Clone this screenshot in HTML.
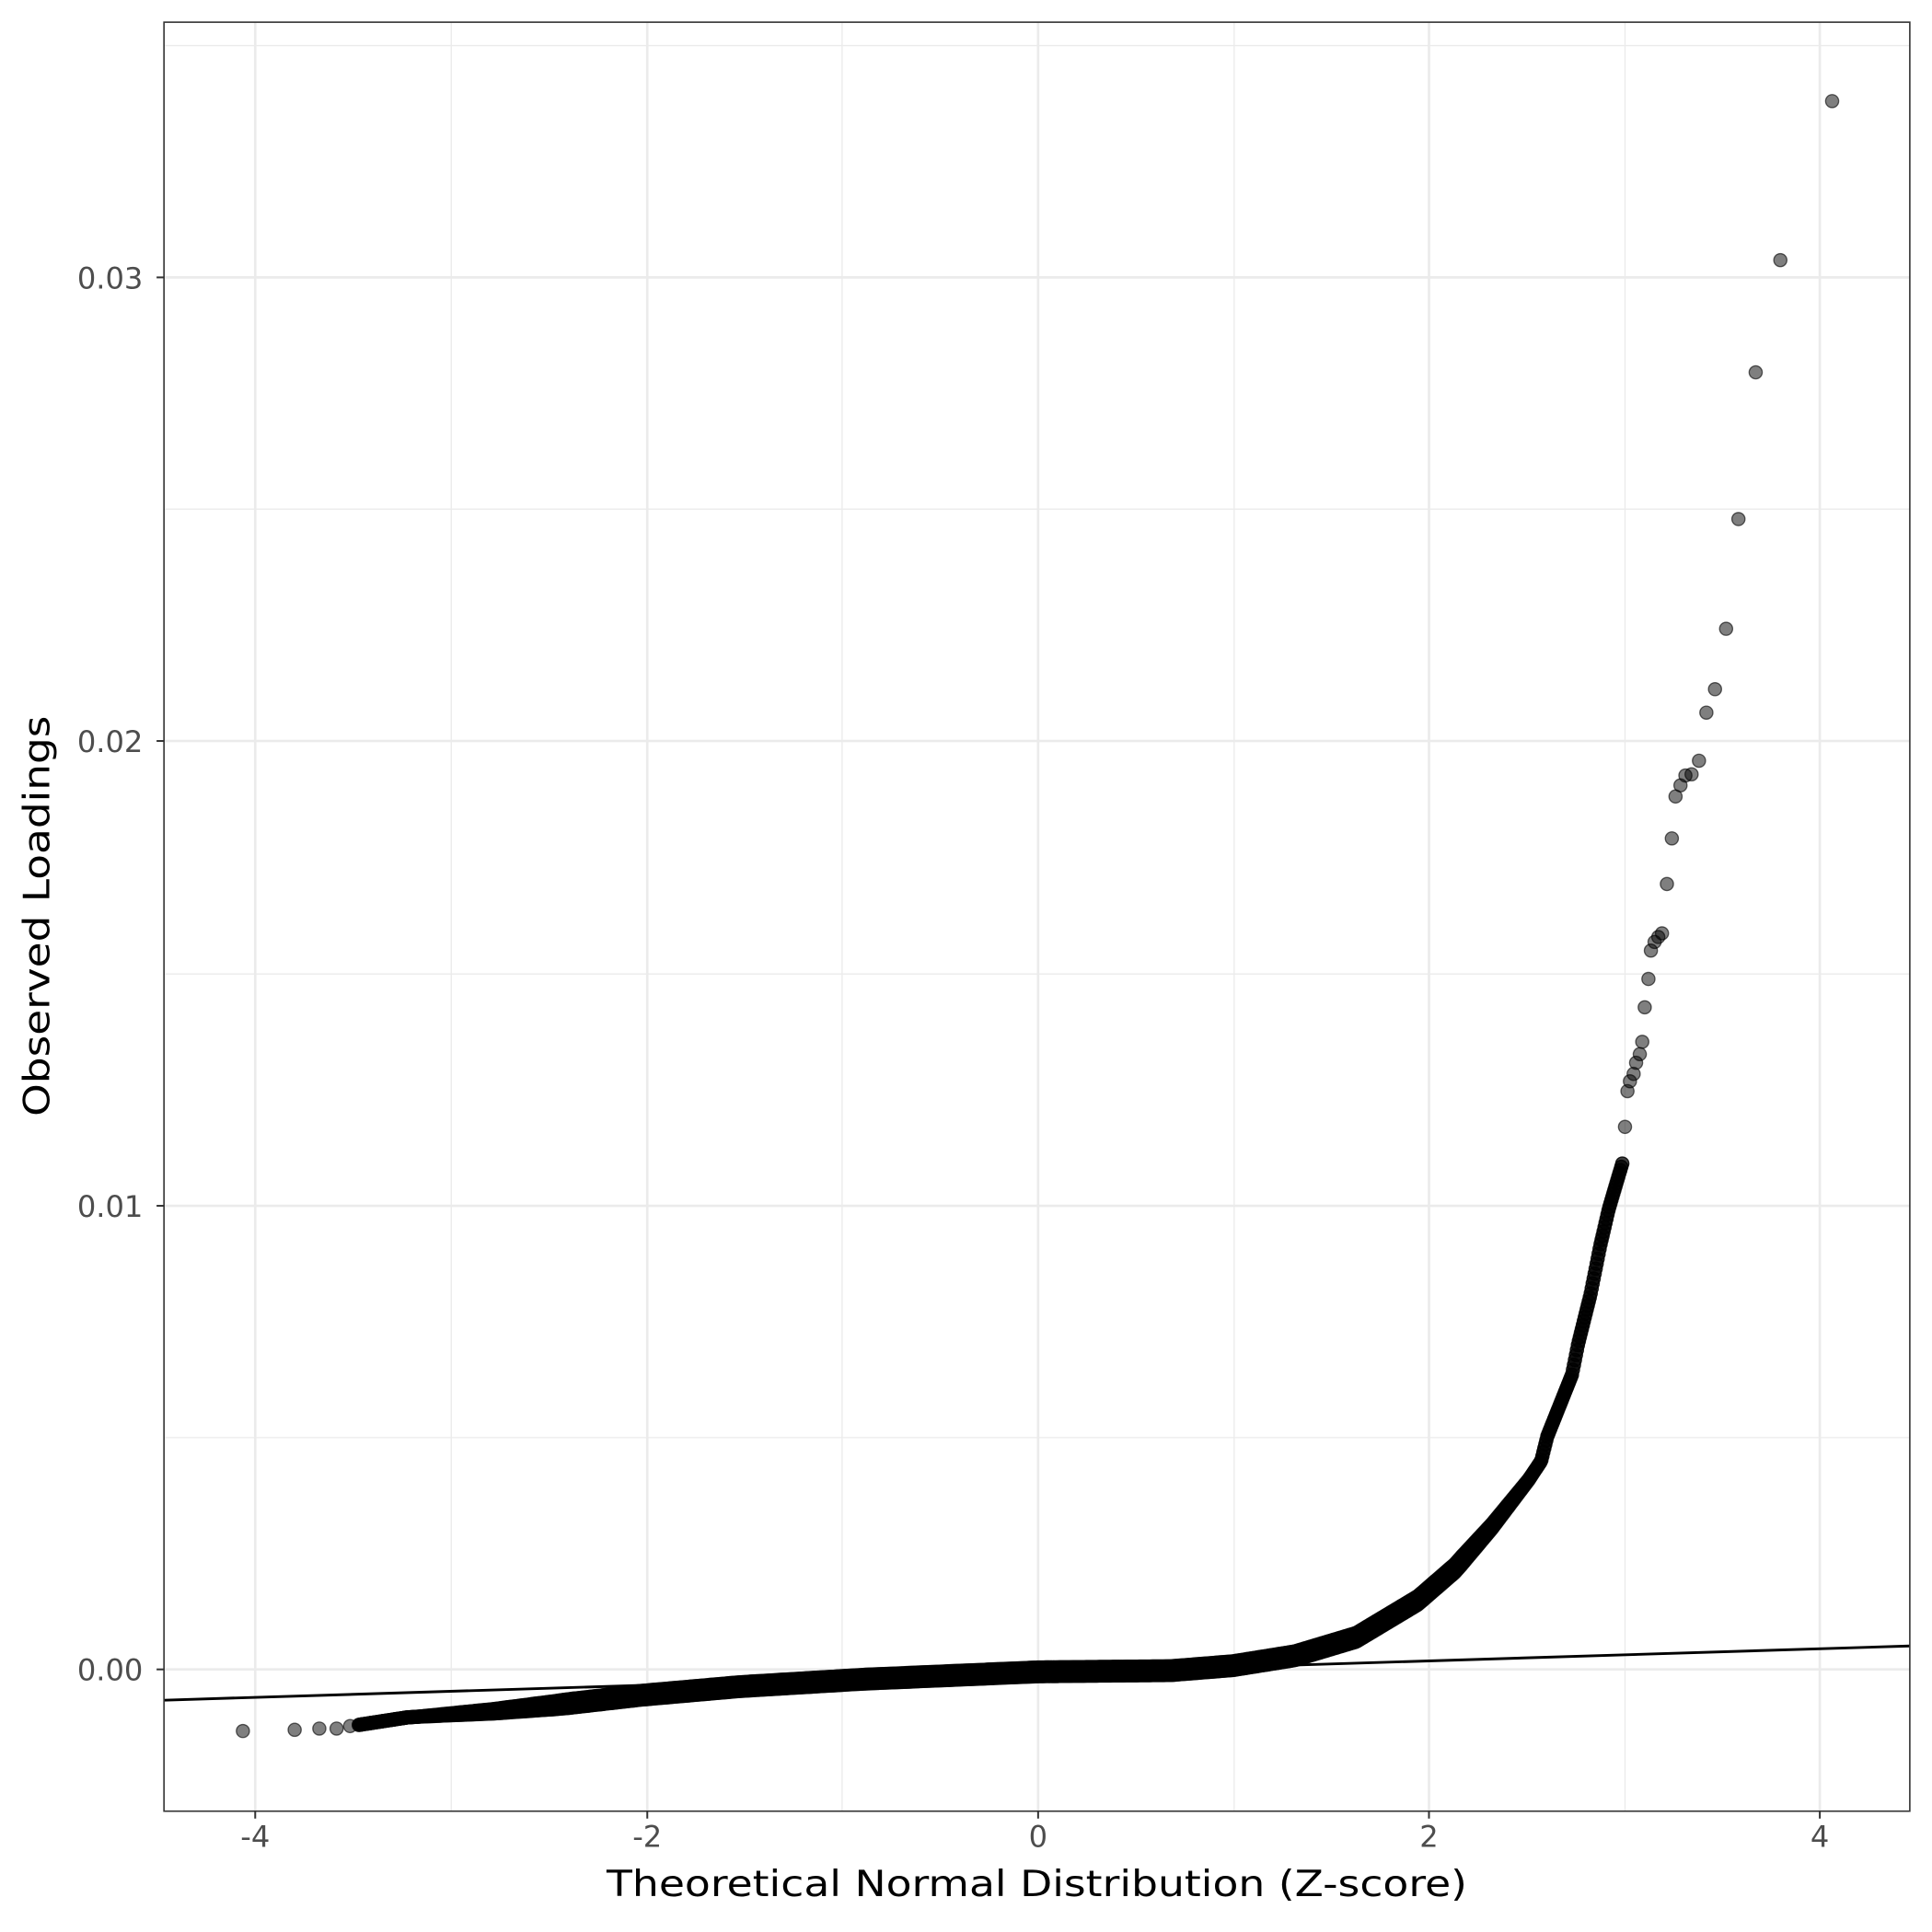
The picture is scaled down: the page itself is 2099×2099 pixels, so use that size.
<!DOCTYPE html>
<html><head><meta charset="utf-8"><style>html,body{margin:0;padding:0;background:#fff}svg{display:block}</style></head>
<body>
<svg id="s" width="2099" height="2099" viewBox="0 0 1567 1567" xmlns="http://www.w3.org/2000/svg" font-family="'DejaVu Sans','Liberation Sans',sans-serif">
<rect width="1567" height="1567" fill="#fff"/>
<g stroke="#ebebeb" stroke-width="1">
<line x1="366" y1="18" x2="366" y2="1469"/><line x1="683" y1="18" x2="683" y2="1469"/><line x1="1001" y1="18" x2="1001" y2="1469"/><line x1="1318" y1="18" x2="1318" y2="1469"/>
<line x1="133" y1="37" x2="1549" y2="37"/><line x1="133" y1="413" x2="1549" y2="413"/><line x1="133" y1="790" x2="1549" y2="790"/><line x1="133" y1="1166" x2="1549" y2="1166"/>
</g>
<g stroke="#ebebeb" stroke-width="2">
<line x1="207" y1="18" x2="207" y2="1469"/><line x1="525" y1="18" x2="525" y2="1469"/><line x1="842" y1="18" x2="842" y2="1469"/><line x1="1159" y1="18" x2="1159" y2="1469"/><line x1="1476" y1="18" x2="1476" y2="1469"/>
<line x1="133" y1="225" x2="1549" y2="225"/><line x1="133" y1="601" x2="1549" y2="601"/><line x1="133" y1="978" x2="1549" y2="978"/><line x1="133" y1="1354" x2="1549" y2="1354"/>
</g>
<g id="pts" fill="rgba(0,0,0,0.5)" stroke="#000" stroke-opacity="0.6" stroke-width="1"></g>
<line x1="133" y1="1379" x2="1549" y2="1335" stroke="#000" stroke-width="2.2"/>
<rect x="133" y="18" width="1416" height="1451" fill="none" stroke="#333" stroke-width="1.2"/>
<g stroke="#333" stroke-width="1.5">
<line x1="127" y1="225" x2="133" y2="225"/><line x1="127" y1="601" x2="133" y2="601"/><line x1="127" y1="978" x2="133" y2="978"/><line x1="127" y1="1354" x2="133" y2="1354"/>
<line x1="207" y1="1469" x2="207" y2="1475"/><line x1="525" y1="1469" x2="525" y2="1475"/><line x1="842" y1="1469" x2="842" y2="1475"/><line x1="1159" y1="1469" x2="1159" y2="1475"/><line x1="1476" y1="1469" x2="1476" y2="1475"/>
</g>
<g fill="#4d4d4d" font-size="24" text-anchor="end">
<text x="116" y="234">0.03</text><text x="116" y="610">0.02</text><text x="116" y="987">0.01</text><text x="116" y="1363">0.00</text>
</g>
<g fill="#4d4d4d" font-size="24" text-anchor="middle">
<text x="207" y="1498">-4</text><text x="525" y="1498">-2</text><text x="842" y="1498">0</text><text x="1159" y="1498">2</text><text x="1476" y="1498">4</text>
</g>
<text x="841" y="1538" font-size="29" text-anchor="middle" textLength="698" lengthAdjust="spacingAndGlyphs">Theoretical Normal Distribution (Z-score)</text>
<text transform="translate(40,743) rotate(-90)" font-size="29" text-anchor="middle" textLength="325" lengthAdjust="spacingAndGlyphs">Observed Loadings</text>
</svg>
<script>
(function(){
var g=document.getElementById('pts'),out=[];
function dot(x,y){out.push('<circle cx="'+x.toFixed(1)+'" cy="'+y.toFixed(1)+'" r="5.3"/>');}
var tails=[[197,1404],[239,1403],[259,1402],[273,1402],[284,1400],
[1486,82],[1444,211],[1424,302],[1410,421],[1400,510],[1391,559],[1384,578],[1378,617],[1372,628],[1367,629],[1363,637],[1359,646],[1356,680],[1352,717],[1348,757],[1345,760],[1342,764],[1339,771],[1337,794],[1334,817],[1332,845],[1330,855],[1327,862],[1325,871],[1322,877],[1320,885],[1318,914]];
tails.forEach(function(p){dot(p[0],p[1]);});
var c=[[291,1399],[330,1393],[400,1388],[450,1383],[520,1375],[600,1368],[700,1362],[842,1356],[950,1355],[1000,1351],[1050,1343],[1100,1328],[1150,1298],[1180,1272],[1210,1238],[1240,1200],[1250,1185],[1255,1165],[1265,1140],[1275,1115],[1280,1090],[1290,1050],[1298,1010],[1305,980],[1316,943]];
function f(x){for(var i=0;i<c.length-1;i++){if(x<=c[i+1][0]){var t=(x-c[i][0])/(c[i+1][0]-c[i][0]);return c[i][1]+t*(c[i+1][1]-c[i][1]);}}return c[c.length-1][1];}
for(var x=291;x<=1316;x+=0.8){
  var y=f(x);
  var w=0;
  if(x>340&&x<1245){w=Math.min(1,(x-340)/120)*Math.min(1,(1245-x)/60)*3.5;}
  dot(x,y-w);dot(x,y+w);
}
g.innerHTML=out.join('');
})();
</script>
</body></html>
